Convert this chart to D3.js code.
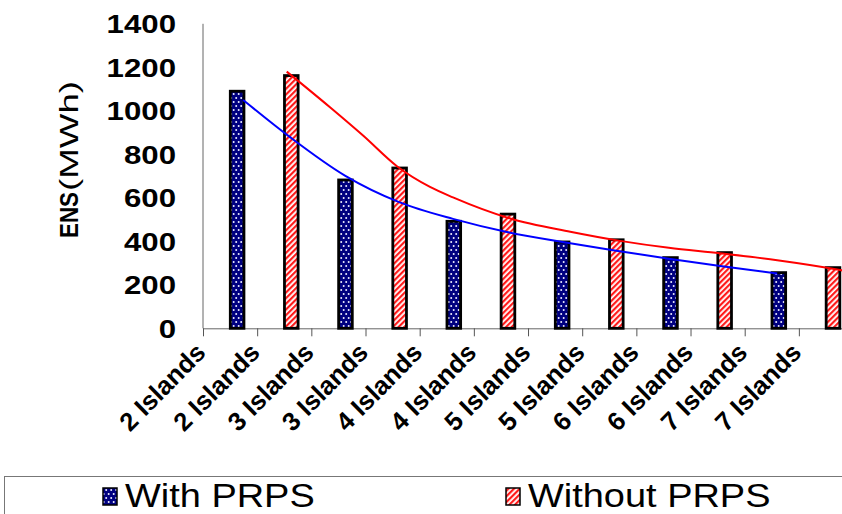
<!DOCTYPE html>
<html><head><meta charset="utf-8">
<script src="https://cdn.jsdelivr.net/npm/d3@7"></script>
<style>
html,body{margin:0;padding:0;background:#fff;}
svg{display:block;font-family:"Liberation Sans",Arial,sans-serif;}
</style></head>
<body><svg id="chart" width="842" height="514"></svg>
<script>
// ---- data ----
const categories = ["2 Islands","2 Islands","3 Islands","3 Islands","4 Islands","4 Islands",
                    "5 Islands","5 Islands","6 Islands","6 Islands","7 Islands","7 Islands"];
const withPRPS    = [1090, null, 682, null, 492, null, 397, null, 325, null, 256, null];
const withoutPRPS = [null, 1162, null, 737, null, 525, null, 407, null, 348, null, 279];
const yTicks = [0, 200, 400, 600, 800, 1000, 1200, 1400];
// trend lines: [position in category units, MWh]
const trendWith = [[0.74,1050],[1.6,880],[2.62,702],[3.62,580],[4.615,503],[5.61,443],
                   [6.61,398],[7.6,358],[8.6,320],[9.58,285],[10.6,252]];
const trendWithout = [[1.545,1180],[2.35,1015],[2.96,885],[3.58,745],[4.19,650],[4.615,602],
                      [5.67,505],[6.78,444],[7.7,402],[8.6,370],[9.54,345],[10.6,313],[11.76,268],[12.0,257]];
const seriesNames = ["With PRPS","Without PRPS"];

// ---- layout ----
const svg = d3.select("#chart");
const plotLeft = 203, plotTop = 23.8, plotBase = 328.3, bandW = 54.17;
const x = d3.scaleBand().domain(d3.range(categories.length)).range([plotLeft, plotLeft + bandW*categories.length]).padding(0);
const xc = d3.scaleLinear().domain([0, categories.length]).range([plotLeft, plotLeft + bandW*categories.length]);
const y = d3.scaleLinear().domain([0, 1400]).range([plotBase, plotTop]);
const SX = 1.2;

// patterns
const defs = svg.append("defs");
const pd = defs.append("pattern").attr("id","dots").attr("patternUnits","userSpaceOnUse")
  .attr("width",5).attr("height",8);
pd.append("rect").attr("width",5).attr("height",8).attr("fill","#000080");
pd.append("circle").attr("cx",1.2).attr("cy",2).attr("r",1).attr("fill","#eef");
pd.append("circle").attr("cx",3.7).attr("cy",6).attr("r",1).attr("fill","#eef");
const ps = defs.append("pattern").attr("id","stripes").attr("patternUnits","userSpaceOnUse")
  .attr("width",4).attr("height",4).attr("patternTransform","rotate(45)");
ps.append("rect").attr("width",4).attr("height",4).attr("fill","#ffffff");
ps.append("rect").attr("width",2.2).attr("height",4).attr("fill","#ff1a1a");

// axes lines
svg.append("line").attr("x1",plotLeft).attr("x2",plotLeft).attr("y1",plotTop).attr("y2",plotBase)
  .attr("stroke","#666").attr("stroke-width",1);
const xAxis = d3.axisBottom(xc).tickValues(d3.range(categories.length+1)).tickSize(8).tickFormat("");
const gx = svg.append("g").attr("transform",`translate(0,${plotBase})`).call(xAxis);
gx.select(".domain").attr("stroke","#666").attr("d",`M${plotLeft},0.5H842`);
gx.selectAll(".tick line").attr("stroke","#555");

// y tick labels
svg.append("g").selectAll("text").data(yTicks).join("text")
  .attr("transform",d=>`translate(176,${y(d)}) scale(${SX},1)`)
  .attr("text-anchor","end").attr("dy","0.36em")
  .attr("font-weight","bold").attr("font-size",26).attr("fill","#000")
  .text(d=>d);

// y title
svg.append("text").attr("transform",`translate(78,238) scale(${SX},1) rotate(-90)`)
  .attr("font-size",21).attr("font-weight","bold").attr("fill","#000")
  .attr("textLength",46).attr("lengthAdjust","spacingAndGlyphs").text("ENS");
svg.append("text").attr("transform",`translate(78,191) scale(${SX},1) rotate(-90)`)
  .attr("font-size",21).attr("fill","#000")
  .attr("textLength",110).attr("lengthAdjust","spacingAndGlyphs").text("(MWh)");

// category labels
svg.append("g").selectAll("text").data(categories).join("text")
  .attr("transform",(d,i)=>`translate(${x(i)+4},354) scale(0.98,1) rotate(-45)`)
  .attr("text-anchor","end").attr("font-weight","bold").attr("font-size",26).attr("fill","#000")
  .text(d=>d);

// bars
const barOff = 0.48, barW = 0.3;
function drawBars(vals, fill){
  svg.append("g").selectAll("rect").data(vals.map((v,i)=>({v,i})).filter(d=>d.v!=null)).join("rect")
    .attr("x",d=>x(d.i)+x.bandwidth()*barOff+1.3)
    .attr("width",x.bandwidth()*barW-2.6)
    .attr("y",d=>y(d.v))
    .attr("height",d=>plotBase-y(d.v))
    .attr("fill",fill).attr("stroke","#000").attr("stroke-width",2.8);
}
drawBars(withPRPS,"url(#dots)");
drawBars(withoutPRPS,"url(#stripes)");

// trend lines
const line = d3.line().x(d=>xc(d[0])).y(d=>y(d[1])).curve(d3.curveMonotoneX);
svg.append("path").datum(trendWith).attr("d",line).attr("fill","none").attr("stroke","#0000ff").attr("stroke-width",2);
svg.append("path").datum(trendWithout).attr("d",line).attr("fill","none").attr("stroke","#ff0000").attr("stroke-width",2);

// legend
svg.append("rect").attr("x",4.5).attr("y",476.5).attr("width",900).attr("height",100)
  .attr("fill","none").attr("stroke","#777").attr("stroke-width",1);
const legX = [103, 506];
const fills = ["url(#dots)","url(#stripes)"];
seriesNames.forEach((n,i)=>{
  svg.append("rect").attr("x",legX[i]).attr("y",488).attr("width",14).attr("height",17)
    .attr("fill",fills[i]).attr("stroke","#000").attr("stroke-width",1.5);
  svg.append("text").attr("transform",`translate(${legX[i]+22},507) scale(1.15,1)`)
    .attr("font-size",33).attr("fill","#000").text(n);
});
</script></body></html>
